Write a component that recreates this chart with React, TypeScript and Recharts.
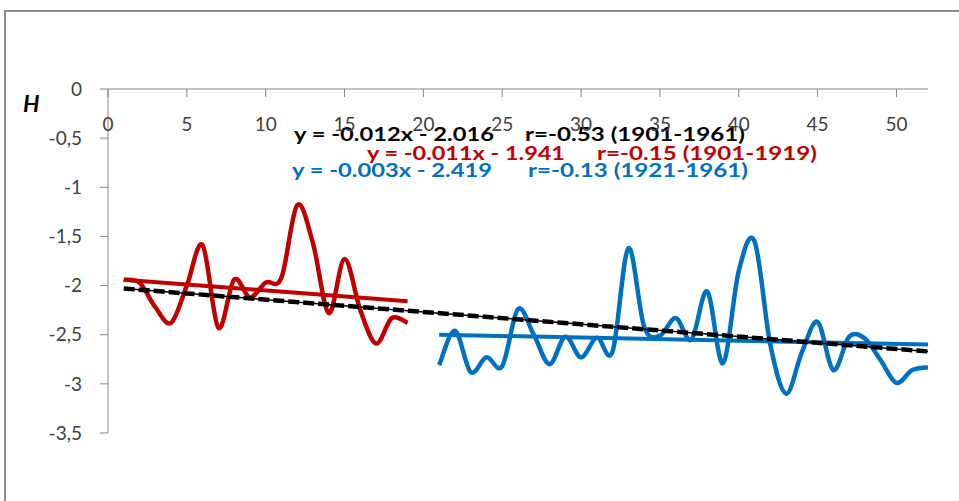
import { Customized, Line, LineChart, XAxis, YAxis } from "recharts"

// x = year index (1 = 1901), H values
const RED_X = [1, 2, 3, 4, 5, 6, 7, 8, 9, 10, 11, 12, 13, 14, 15, 16, 17, 18, 19]
const RED_H = [
  -1.94, -1.97, -2.22, -2.38, -2.0, -1.59, -2.43, -1.94, -2.12, -1.97, -1.92, -1.18, -1.57, -2.28, -1.73,
  -2.25, -2.59, -2.33, -2.38,
]

const BLUE_X = [
  21, 22, 23, 24, 25, 26, 27, 28, 29, 30, 31, 32, 33, 34, 35, 36, 37, 38, 39, 40, 41, 42, 43, 44, 45, 46, 47,
  48, 49, 50, 51, 52,
]
const BLUE_H = [
  -2.81, -2.46, -2.88, -2.73, -2.82, -2.24, -2.5, -2.8, -2.52, -2.73, -2.53, -2.67, -1.62, -2.42, -2.51, -2.33,
  -2.55, -2.06, -2.79, -1.85, -1.55, -2.6, -3.1, -2.68, -2.37, -2.86, -2.52, -2.54, -2.76, -2.99, -2.86, -2.83,
]

// trend line end points
const TREND_ALL = [
  { x: 1, y: -2.03 },
  { x: 52, y: -2.67 },
]
const TREND_RED = [
  { x: 1, y: -1.94 },
  { x: 19, y: -2.16 },
]
const TREND_BLUE = [
  { x: 21, y: -2.5 },
  { x: 52, y: -2.6 },
]

const X_TICKS = [0, 5, 10, 15, 20, 25, 30, 35, 40, 45, 50]
const Y_TICKS = [0, -0.5, -1, -1.5, -2, -2.5, -3, -3.5]

const EQUATIONS = [
  { eq: "y = -0.012x - 2.016", r: "r=-0.53 (1901-1961)", color: "#000000" },
  { eq: "y = -0.011x - 1.941", r: "r=-0.15 (1901-1919)", color: "#C00000" },
  { eq: "y = -0.003x - 2.419", r: "r=-0.13 (1921-1961)", color: "#0070C0" },
]

const RED = "#C00000"
const BLUE = "#0070C0"
const AXIS = "#868686"
const FONT = "Lato, 'Open Sans', sans-serif"

const redData = RED_X.map((x, i) => ({ x, y: RED_H[i] }))
const blueData = BLUE_X.map((x, i) => ({ x, y: BLUE_H[i] }))

// excel-like smoothing (catmull-rom through every point)
function smoothCurve(context: any) {
  let pts: [number, number][] = []
  return {
    areaStart() {},
    areaEnd() {},
    lineStart() {
      pts = []
    },
    point(x: number, y: number) {
      pts.push([+x, +y])
    },
    lineEnd() {
      const n = pts.length
      if (!n) return
      context.moveTo(pts[0][0], pts[0][1])
      for (let i = 0; i < n - 1; i++) {
        const p0 = pts[Math.max(i - 1, 0)]
        const p1 = pts[i]
        const p2 = pts[i + 1]
        const p3 = pts[Math.min(i + 2, n - 1)]
        context.bezierCurveTo(
          p1[0] + (p2[0] - p0[0]) / 6,
          p1[1] + (p2[1] - p0[1]) / 6,
          p2[0] - (p3[0] - p1[0]) / 6,
          p2[1] - (p3[1] - p1[1]) / 6,
          p2[0],
          p2[1],
        )
      }
    },
  }
}

// label placement (pixels), one row per equation
const LABEL_POS = [
  { eqX: 294, rX: 525, y: 141 },
  { eqX: 367, rX: 597, y: 160 },
  { eqX: 292, rX: 528, y: 177 },
]

function Annotations() {
  return (
    <g fontFamily={FONT} fontSize={18} fontWeight="bold">
      {EQUATIONS.map((e, i) => (
        <g key={e.eq} fill={e.color}>
          <text x={LABEL_POS[i].eqX} y={LABEL_POS[i].y} textLength={i === 1 ? 198 : 200} lengthAdjust="spacingAndGlyphs">
            {e.eq}
          </text>
          <text x={LABEL_POS[i].rX} y={LABEL_POS[i].y} textLength={220} lengthAdjust="spacingAndGlyphs">
            {e.r}
          </text>
        </g>
      ))}
      <text x={23} y={112} fontSize={23} fontStyle="italic" fill="#000">
        H
      </text>
    </g>
  )
}

export default function App() {
  return (
    <div style={{ position: "absolute", left: 0, top: 0, width: 959, height: 501, background: "#fff" }}>
      <div
        style={{
          position: "absolute",
          left: 4,
          top: 10,
          right: 0,
          bottom: 0,
          borderTop: "2px solid #8c8c8c",
          borderLeft: "2px solid #8c8c8c",
        }}
      />
      <LineChart
        width={959}
        height={501}
        margin={{ top: 89, right: 31, bottom: 68, left: 0 }}
        style={{ position: "absolute", left: 0, top: 0, fontFamily: FONT }}
      >
        <XAxis
          dataKey="x"
          type="number"
          orientation="top"
          mirror
          domain={[0, 52]}
          ticks={X_TICKS}
          allowDataOverflow
          stroke={AXIS}
          tickSize={8}
          tickMargin={21}
          tick={{ fill: "#404040", fontSize: 19, fontFamily: FONT }}
        />
        <YAxis
          type="number"
          domain={[-3.5, 0]}
          ticks={Y_TICKS}
          width={108}
          allowDataOverflow
          stroke={AXIS}
          tickSize={8}
          tickMargin={18}
          tick={{ fill: "#404040", fontSize: 19, fontFamily: FONT }}
          tickFormatter={(v: number) => String(v).replace(".", ",")}
        />
        <Line data={redData} dataKey="y" type={smoothCurve as any} stroke={RED} strokeWidth={4.5} dot={false} activeDot={false} isAnimationActive={false} />
        <Line data={blueData} dataKey="y" type={smoothCurve as any} stroke={BLUE} strokeWidth={4.5} dot={false} activeDot={false} isAnimationActive={false} />
        <Line data={TREND_RED} dataKey="y" type="linear" stroke={RED} strokeWidth={4} dot={false} activeDot={false} isAnimationActive={false} />
        <Line data={TREND_BLUE} dataKey="y" type="linear" stroke={BLUE} strokeWidth={4} dot={false} activeDot={false} isAnimationActive={false} />
        <Line data={TREND_ALL} dataKey="y" type="linear" stroke="#000" strokeWidth={1.5} dot={false} activeDot={false} isAnimationActive={false} />
        <Line
          data={TREND_ALL}
          dataKey="y"
          type="linear"
          stroke="#000"
          strokeWidth={4.5}
          strokeDasharray="11 4"
          dot={false}
          activeDot={false}
          isAnimationActive={false}
        />
        <Customized component={Annotations} />
      </LineChart>
    </div>
  )
}
